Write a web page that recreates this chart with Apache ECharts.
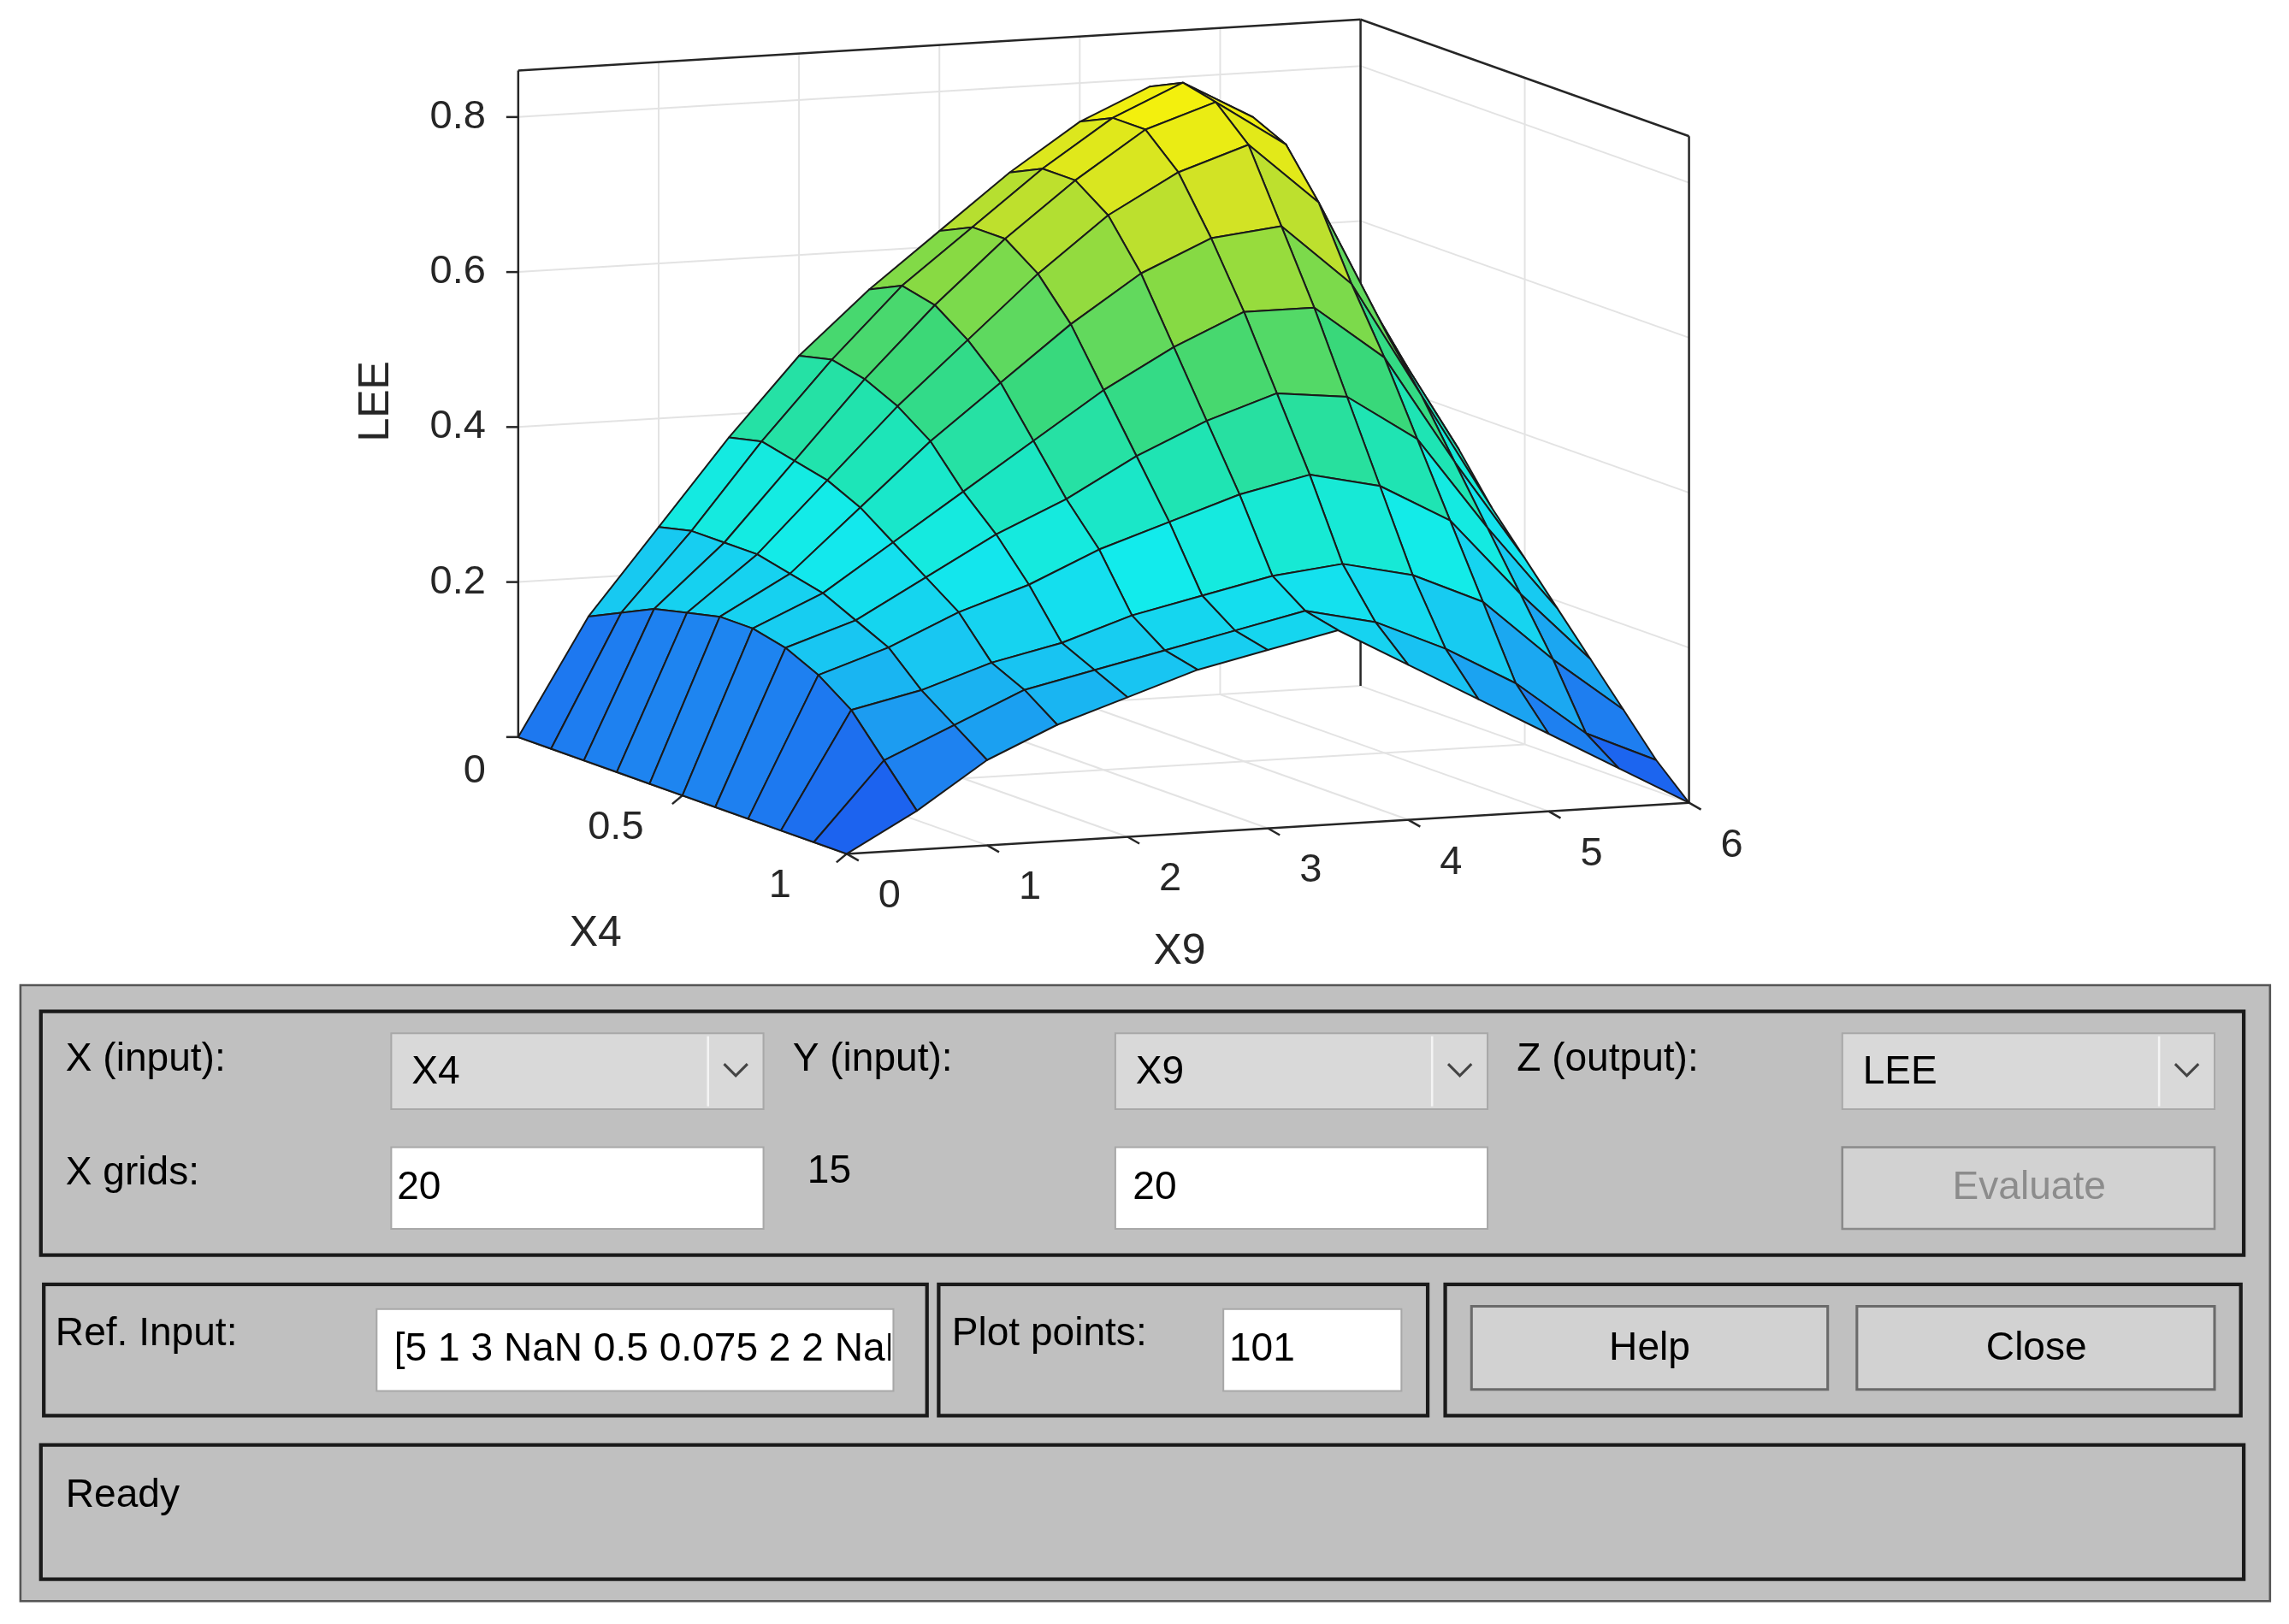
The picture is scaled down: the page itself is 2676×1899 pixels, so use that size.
<!DOCTYPE html>
<html><head><meta charset="utf-8">
<script src="https://cdn.jsdelivr.net/npm/echarts@6/dist/echarts.min.js"></script>
<style>html,body{margin:0;padding:0;background:#fff}#c{width:2676px;height:1899px}</style>
</head><body><div id="c"></div>
<script>
// ---- data ----
const x4Values = [0,0.1,0.2,0.3,0.4,0.5,0.6,0.7,0.8,0.9,1.0];
const x9Values = [0,0.5,1,1.5,2,2.5,3,3.5,4,4.5,5,5.5,6];
const leeRow00 = [0,0.15,0.26,0.37,0.47,0.55,0.62,0.69,0.75,0.79,0.74,0.62,0.50];
const leeRow01 = [0,0.17,0.27,0.38,0.48,0.57,0.64,0.71,0.77,0.81,0.76,0.60,0.45];
const leeRow02 = [0,0.19,0.27,0.37,0.47,0.56,0.64,0.71,0.77,0.80,0.74,0.56,0.40];
const leeRow03 = [0,0.20,0.27,0.36,0.45,0.53,0.61,0.68,0.73,0.76,0.68,0.50,0.35];
const leeRow04 = [0,0.21,0.26,0.34,0.42,0.49,0.56,0.62,0.66,0.67,0.59,0.44,0.29];
const leeRow05 = [0,0.21,0.25,0.31,0.37,0.43,0.49,0.54,0.58,0.58,0.51,0.37,0.24];
const leeRow06 = [0,0.20,0.23,0.28,0.33,0.37,0.42,0.46,0.49,0.48,0.42,0.30,0.19];
const leeRow07 = [0,0.18,0.21,0.25,0.28,0.32,0.35,0.38,0.40,0.38,0.33,0.23,0.14];
const leeRow08 = [0,0.15,0.17,0.20,0.22,0.25,0.27,0.29,0.30,0.28,0.24,0.16,0.09];
const leeRow09 = [0,0.10,0.14,0.18,0.20,0.22,0.24,0.26,0.24,0.20,0.15,0.08,0.04];
const leeRow10 = [0,0.05,0.11,0.15,0.18,0.21,0.23,0.25,0.20,0.15,0.10,0.05,0];
const leeRows = [leeRow00,leeRow01,leeRow02,leeRow03,leeRow04,leeRow05,leeRow06,leeRow07,leeRow08,leeRow09,leeRow10];
const zTicks = [0,0.2,0.4,0.6,0.8];
const x4Ticks = [0.5,1];
const x9Ticks = [0,1,2,3,4,5,6];
const zTop = 0.86;

// ---- projection (reference-image pixel space) ----
function proj(x4,x9,z){ return [355+225*x4+577*x9/6, 505+80*x4-35*x9/6-531*z]; }
const cmapZ = [0,0.1,0.2,0.3,0.4,0.5,0.6,0.7,0.8];
const cmapC = ['#1a50ee','#1e82f0','#18c4f2','#12ecec','#1ee4b4','#3ad878','#86da44','#d0e226','#f8f20a'];
function hex(c){return [parseInt(c.substr(1,2),16),parseInt(c.substr(3,2),16),parseInt(c.substr(5,2),16)];}
function color(z){
  if(z<=cmapZ[0]) return cmapC[0];
  for(let i=1;i<cmapZ.length;i++){ if(z<=cmapZ[i]){const t=(z-cmapZ[i-1])/(cmapZ[i]-cmapZ[i-1]);const a=hex(cmapC[i-1]),b=hex(cmapC[i]);
    return 'rgb('+a.map((v,k)=>Math.round(v+(b[k]-v)*t)).join(',')+')';}}
  return cmapC[cmapC.length-1];
}
const cells=[];
for(let i=0;i<x4Values.length-1;i++) for(let j=0;j<x9Values.length-1;j++){
  const cx4=(x4Values[i]+x4Values[i+1])/2, cx9=(x9Values[j]+x9Values[j+1])/2;
  cells.push([i,j,proj(cx4,cx9,0)[1]]);
}
cells.sort((a,b)=>a[2]-b[2]);

const chart = echarts.init(document.getElementById('c'));
const FONT='Liberation Sans';
function mk(api){ return (a,b,c)=>{const p=proj(a,b,c);return api.coord(p);} }

function renderAxes(params,api){
  const P=mk(api); const ch=[];
  const line=(p,q,col,w)=>ch.push({type:'line',shape:{x1:p[0],y1:p[1],x2:q[0],y2:q[1]},style:{stroke:col,lineWidth:w}});
  const G='#e3e3e3';
  zTicks.slice(1).forEach(z=>{line(P(0,0,z),P(0,6,z),G,2);line(P(0,6,z),P(1,6,z),G,2);});
  [1,2,3,4,5].forEach(v=>{line(P(0,v,0),P(0,v,zTop),G,2);line(P(0,v,0),P(1,v,0),G,2);});
  line(P(0.5,6,0),P(0.5,6,zTop),G,2); line(P(0.5,0,0),P(0.5,6,0),G,2);
  line(P(0,0,0),P(0,6,0),G,2); line(P(0,6,0),P(1,6,0),G,2);
  const K='#262626';
  line(P(0,0,0),P(0,0,zTop),K,2.5); line(P(0,6,0),P(0,6,zTop),K,2.5); line(P(1,6,0),P(1,6,zTop),K,2.5);
  line(P(0,0,zTop),P(0,6,zTop),K,2.5); line(P(0,6,zTop),P(1,6,zTop),K,2.5);
  line(P(0,0,0),P(1,0,0),K,2.5); line(P(1,0,0),P(1,6,0),K,2.5);
  const F='47px '+FONT;
  zTicks.forEach(z=>{const p=P(0,0,z);line(p,[p[0]-14,p[1]],K,2.5);
    ch.push({type:'text',x:p[0]-38,y:p[1]+(z===0?40:0),style:{text:String(z),font:F,fill:'#262626',align:'right',verticalAlign:'middle'}});});
  x4Ticks.forEach(v=>{const p=P(v,0,0);line(p,[p[0]-12,p[1]+10],K,2.5);
    ch.push({type:'text',x:p[0]-78,y:p[1]+38,style:{text:String(v),font:F,fill:'#262626',align:'center',verticalAlign:'middle'}});});
  x9Ticks.forEach(v=>{const p=P(1,v,0);line(p,[p[0]+14,p[1]+8],K,2.5);
    ch.push({type:'text',x:p[0]+50,y:p[1]+50,style:{text:String(v),font:F,fill:'#262626',align:'center',verticalAlign:'middle'}});});
  const t1=api.coord([258,275]), t2=api.coord([408,640]), t3=api.coord([808,652]);
  const FT='50px '+FONT;
  ch.push({type:'text',x:t1[0],y:t1[1],rotation:Math.PI/2,style:{text:'LEE',font:FT,fill:'#262626',align:'center',verticalAlign:'middle'}});
  ch.push({type:'text',x:t2[0],y:t2[1],style:{text:'X4',font:FT,fill:'#262626',align:'center',verticalAlign:'middle'}});
  ch.push({type:'text',x:t3[0],y:t3[1],style:{text:'X9',font:FT,fill:'#262626',align:'center',verticalAlign:'middle'}});
  return {type:'group',children:ch};
}
function renderCell(params,api){
  const P=mk(api);
  const i=api.value(0), j=api.value(1);
  const a=x4Values[i],b=x4Values[i+1],c=x9Values[j],d=x9Values[j+1];
  const z00=leeRows[i][j],z01=leeRows[i][j+1],z10=leeRows[i+1][j],z11=leeRows[i+1][j+1];
  const pts=[P(a,c,z00),P(a,d,z01),P(b,d,z11),P(b,c,z10)];
  return {type:'polygon',shape:{points:pts},style:{fill:color((z00+z01+z10+z11)/4),stroke:'#1a1a1a',lineWidth:2,lineJoin:'round'}};
}

const S=2676/1568;
const ui=[];
const rect=(x1,y1,x2,y2,fill,stroke,lw)=>ui.push({type:'rect',shape:{x:x1,y:y1,width:x2-x1,height:y2-y1},style:{fill:fill,stroke:stroke||null,lineWidth:lw||0}});
const txt=(x,y,t,opt)=>ui.push({type:'text',x:x,y:y,style:Object.assign({text:t,font:'27px '+FONT,fill:'#000',verticalAlign:'middle'},opt||{})});
rect(14,675,1555,1097,'#c0c0c0','#555',1.5);
[[28,693,1537,860],[30,880,635,970],[643,880,978,970],[990,880,1535,970],[28,990,1537,1082]].forEach(b=>rect(b[0],b[1],b[2],b[3],null,'#1a1a1a',2.5));
function combo(x1,x2,label){rect(x1,708,x2,760,'#d9d9d9','#a8a8a8',1.2);ui.push({type:'line',shape:{x1:x2-38,y1:710,x2:x2-38,y2:758},style:{stroke:'#f4f4f4',lineWidth:1.5}});
  ui.push({type:'polyline',shape:{points:[[x2-27,729],[x2-19,737],[x2-11,729]]},style:{stroke:'#444',lineWidth:1.8,fill:null}});
  txt(x1+14,735,label);}
txt(45,726,'X (input):'); combo(268,523,'X4');
txt(543,726,'Y (input):'); combo(764,1019,'X9');
txt(1039,726,'Z (output):'); combo(1262,1517,'LEE');
txt(45,804,'X grids:'); rect(268,786,523,842,'#fff','#a8a8a8',1.2); txt(272,814,'20');
txt(553,803,'15'); rect(764,786,1019,842,'#fff','#a8a8a8',1.2); txt(776,814,'20');
rect(1262,786,1517,842,'#d2d2d2','#8a8a8a',1.5); txt(1390,814,'Evaluate',{fill:'#8c8c8c',align:'center'});
txt(38,914,'Ref. Input:'); rect(258,897,612,953,'#fff','#a8a8a8',1.2);
ui.push({type:'group',children:[{type:'text',x:270,y:925,style:{text:'[5 1 3 NaN 0.5 0.075 2 2 NaN',font:'27px '+FONT,fill:'#000',verticalAlign:'middle'}}],clipPath:{type:'rect',shape:{x:260,y:899,width:350,height:52}}});
txt(652,914,'Plot points:'); rect(838,897,960,953,'#fff','#a8a8a8',1.2); txt(842,925,'101');
rect(1008,895,1252,952,'#d2d2d2','#6a6a6a',1.8); txt(1130,924,'Help',{align:'center'});
rect(1272,895,1517,952,'#d2d2d2','#6a6a6a',1.8); txt(1395,924,'Close',{align:'center'});
txt(45,1025,'Ready');

chart.setOption({
  animation:false,
  grid:{left:0,right:0,top:0,bottom:0},
  xAxis:{type:'value',min:0,max:1568,show:false},
  yAxis:{type:'value',min:0,max:1899/S,inverse:true,show:false},
  graphic:[{type:'group',x:0,y:0,scaleX:S,scaleY:S,children:ui}],
  series:[
    {type:'custom',renderItem:renderAxes,data:[[0,0]],silent:true,z:1},
    {type:'custom',renderItem:renderCell,data:cells.map(c=>[c[0],c[1]]),silent:true,z:2,clip:false}
  ]
});
</script></body></html>
